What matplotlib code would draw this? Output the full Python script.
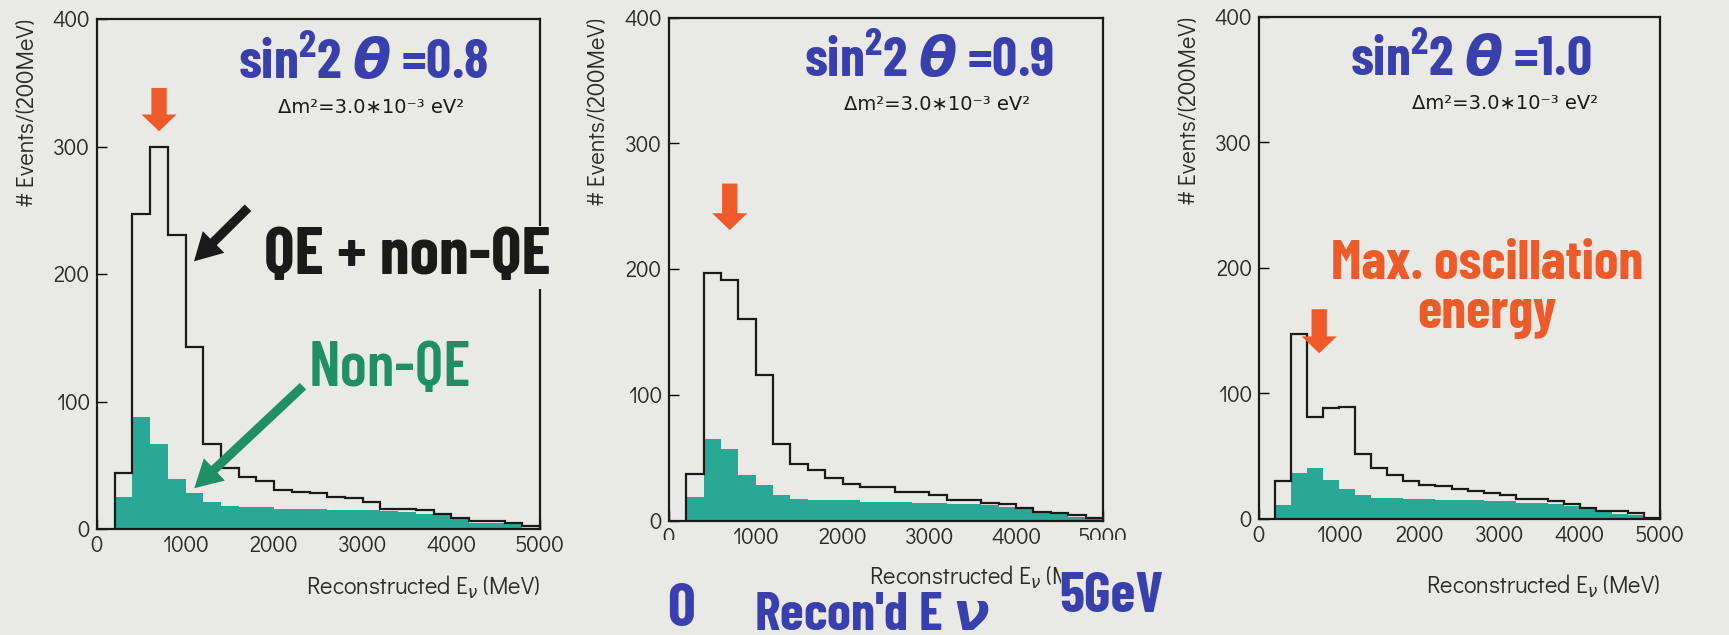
import numpy as np
import matplotlib
matplotlib.use("Agg")
import matplotlib.pyplot as plt
from matplotlib import font_manager as fm
from matplotlib.patches import Rectangle

# ---- data: events per 200 MeV bin, 200 MeV .. 5000 MeV ----
bin_edges = np.arange(200, 5001, 200)

total_08 = [44, 247, 300, 231, 143, 67, 48, 41, 38, 31, 29, 28,
            25, 24, 21, 16, 16, 15, 12, 9, 6, 6, 5, 2]
nonqe_08 = [25, 88, 67, 39, 28, 21, 18, 17, 17, 16, 16, 16,
            15, 15, 15, 14, 13, 12, 11, 9, 5, 5, 4, 1]

total_09 = [37, 197, 191, 160, 116, 61, 45, 40, 34, 29, 27, 27,
            23, 23, 20, 16, 16, 14, 13, 10, 7, 6, 4, 2]
nonqe_09 = [19, 65, 57, 36, 28, 20, 17, 16, 16, 16, 15, 15,
            15, 14, 14, 13, 13, 12, 11, 9, 6, 5, 3, 1]

total_10 = [30, 147, 81, 88, 89, 52, 41, 35, 30, 27, 26, 24,
            22, 21, 19, 16, 16, 14, 12, 9, 6, 6, 5, 1]
nonqe_10 = [11, 37, 41, 31, 24, 19, 17, 17, 16, 16, 15, 15,
            15, 14, 14, 13, 13, 12, 10, 8, 6, 4, 3, 1]

mixing_labels = ["0.8", "0.9", "1.0"]
peak_energy = [700, 700, 750]            # MeV, oscillation-maximum arrow
peak_arrow_y = [(346, 312), (268, 231), (167, 132)]
title_x = [3000, 2990, 2640]
dm2_x = [3090, 3090, 3070]
xlabel_pad = [12, 11, 18]

y_ticks = [0, 100, 200, 300, 400]
x_ticks = [0, 1000, 2000, 3000, 4000, 5000]

# ---- fonts ----
entries = fm.fontManager.ttflist
def has(name, weight=None):
    return any(f.name == name and (weight is None or f.weight == weight) for f in entries)

COND = "Liberation Sans"
for cand in ("Barlow Condensed", "Roboto Condensed", "Archivo Narrow"):
    if has(cand, 700):
        COND = cand
        break
PLAIN = "Didact Gothic" if has("Didact Gothic") else "DejaVu Sans"

plt.rcParams["mathtext.fontset"] = "custom"
plt.rcParams["mathtext.rm"] = f"{COND}:bold"
plt.rcParams["mathtext.bf"] = f"{COND}:bold"
plt.rcParams["mathtext.it"] = "DejaVu Sans:italic:bold"

BG = "#e9e9e6"
TEAL = "#2aa896"
BLUE = "#3a3fae"
ORANGE = "#ef5a2a"
GREEN = "#1f8f68"
INK = "#1a1a1a"
GREY = "#2a2a2a"

fig = plt.figure(figsize=(17.29, 6.35), dpi=100, facecolor=BG)

rects = [
    (0.0561, 0.1669, 0.2562, 0.803),
    (0.3869, 0.1803, 0.2510, 0.792),
    (0.7282, 0.1827, 0.2319, 0.791),
]
totals = [total_08, total_09, total_10]
nonqes = [nonqe_08, nonqe_09, nonqe_10]

axes = []
for i, r in enumerate(rects):
    ax = fig.add_axes(r, facecolor=BG)
    axes.append(ax)
    ax.stairs(nonqes[i], bin_edges, fill=True, color=TEAL, zorder=2)
    ax.stairs(totals[i], bin_edges, color=INK, lw=1.6, baseline=0, zorder=2.2)
    ax.set_xlim(0, 5000)
    ax.set_ylim(0, 400)
    ax.set_xticks(x_ticks)
    ax.set_yticks(y_ticks)
    ax.tick_params(direction="in", length=7, width=1.0, labelsize=16,
                   labelcolor=GREY, pad=5, top=False, right=False)
    for s in ax.spines.values():
        s.set_linewidth(1.6)
        s.set_color(INK)
    for lab in ax.get_xticklabels() + ax.get_yticklabels():
        lab.set_family(PLAIN)
    ax.set_ylabel("# Events/(200MeV)", loc="top", fontsize=17, family=PLAIN,
                  color=GREY, labelpad=10)
    ax.set_xlabel(r"Reconstructed E$_{\nu}$ (MeV)", loc="right", fontsize=17,
                  family=PLAIN, color=GREY, labelpad=xlabel_pad[i],
                  math_fontfamily="dejavusans")

    ax.text(title_x[i], 366,
            r"sin$^{\mathrm{2}}$2 $\mathit{\theta}$ =" + mixing_labels[i],
            fontsize=40, color=BLUE, family=COND, weight="bold",
            ha="center", va="center", zorder=5)
    ax.text(dm2_x[i], 331, "Δm²=3.0∗10⁻³ eV²", fontsize=14, color=INK,
            ha="center", va="center", family="DejaVu Sans", zorder=5)

    y0, y1 = peak_arrow_y[i]
    ax.annotate("", xy=(peak_energy[i], y1), xytext=(peak_energy[i], y0),
                arrowprops=dict(arrowstyle="simple,head_length=0.55,head_width=1.15,tail_width=0.5",
                                fc=ORANGE, ec="none", mutation_scale=22,
                                shrinkA=0, shrinkB=0), zorder=6)

# annotations on the first panel
ax1 = axes[0]
ax1.text(3500, 213, "QE + non-QE", fontsize=48, color=INK, family=COND,
         weight="bold", ha="center", va="center", clip_on=False, zorder=6,
         bbox=dict(facecolor=BG, edgecolor="none", pad=1))
ax1.annotate("", xy=(1095, 210), xytext=(1705, 252),
             arrowprops=dict(arrowstyle="simple,head_length=0.9,head_width=1.0,tail_width=0.3",
                             fc=INK, ec="none", mutation_scale=22,
                             shrinkA=0, shrinkB=0), zorder=6)
ax1.text(3310, 125, "Non-QE", fontsize=45, color=GREEN, family=COND,
         weight="semibold", ha="center", va="center", zorder=6)
ax1.annotate("", xy=(1098, 32), xytext=(2325, 112),
             arrowprops=dict(arrowstyle="simple,head_length=0.9,head_width=1.0,tail_width=0.3",
                             fc=GREEN, ec="none", mutation_scale=22,
                             shrinkA=0, shrinkB=0), zorder=6)

# annotation on the third panel
ax3 = axes[2]
ax3.text(2850, 203, "Max. oscillation", fontsize=40, color=ORANGE, family=COND,
         weight="bold", ha="center", va="center", zorder=6)
ax3.text(2845, 163, "energy", fontsize=40, color=ORANGE, family=COND,
         weight="bold", ha="center", va="center", zorder=6)

# caption boxes sitting over the middle panel's lower edge
for x0, w in ((0.3790, 0.0380), (0.6137, 0.0640)):
    fig.add_artist(Rectangle((x0, 0.0), w, 0.150, transform=fig.transFigure,
                             facecolor=BG, edgecolor="none", zorder=5))

# common energy axis caption
fig.text(0.394, 0.040, "0", fontsize=44, color=BLUE, family=COND, weight="bold",
         ha="center", va="center", zorder=10)
fig.text(0.504, 0.008, r"Recon'd E$\,\mathit{\nu}$", fontsize=39, color=BLUE,
         family=COND, weight="bold", ha="center", va="baseline", zorder=10)
fig.text(0.643, 0.060, "5GeV", fontsize=41, color=BLUE, family=COND, weight="bold",
         ha="center", va="center", zorder=10)

fig.savefig("out.png", dpi=100, facecolor=BG)
